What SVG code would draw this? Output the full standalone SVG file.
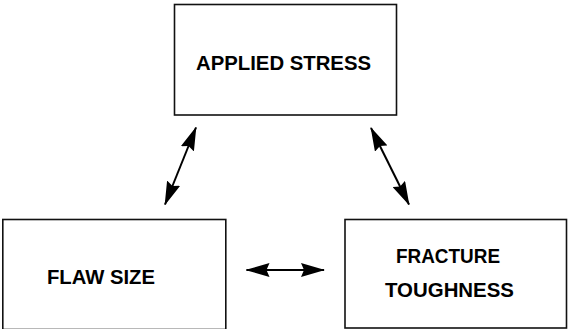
<svg xmlns="http://www.w3.org/2000/svg" width="569" height="329" viewBox="0 0 569 329">
<style>
.box{fill:#fff;stroke:#111;stroke-width:1.6}
.lbl{font-family:"Liberation Sans",Arial,sans-serif;font-weight:bold;font-size:19.5px;fill:#000}
.con{stroke:#000;stroke-width:2;fill:none;marker-start:url(#ah);marker-end:url(#ah)}
</style>
<defs>
<marker id="ah" viewBox="0 0 24 14" refX="23" refY="7" markerWidth="24" markerHeight="14" markerUnits="userSpaceOnUse" orient="auto-start-reverse">
<path d="M0,0 L24,7 L0,14 L3,7 z" fill="#000"/>
</marker>
</defs>
<rect width="569" height="329" fill="#fff"/>
<g id="applied-stress">
<rect class="box" x="174.5" y="4.5" width="222" height="110.5"/>
<text class="lbl" x="196" y="69.5" textLength="175" lengthAdjust="spacingAndGlyphs">APPLIED STRESS</text>
</g>
<g id="flaw-size">
<rect class="box" x="2.8" y="219.5" width="223" height="110"/>
<text class="lbl" x="47" y="283.5" textLength="108" lengthAdjust="spacingAndGlyphs">FLAW SIZE</text>
</g>
<g id="fracture-toughness">
<rect class="box" x="345" y="219.5" width="221.5" height="108.5"/>
<text class="lbl" x="396" y="262.5" textLength="104" lengthAdjust="spacingAndGlyphs">FRACTURE</text>
<text class="lbl" x="385" y="296.5" textLength="129" lengthAdjust="spacingAndGlyphs">TOUGHNESS</text>
</g>
<g id="connectors">
<path class="con" d="M196,127.5 L165,204.5"/>
<path class="con" d="M371,128 L409,204.5"/>
<path class="con" d="M246.5,270 L324,270"/>
</g>
</svg>
